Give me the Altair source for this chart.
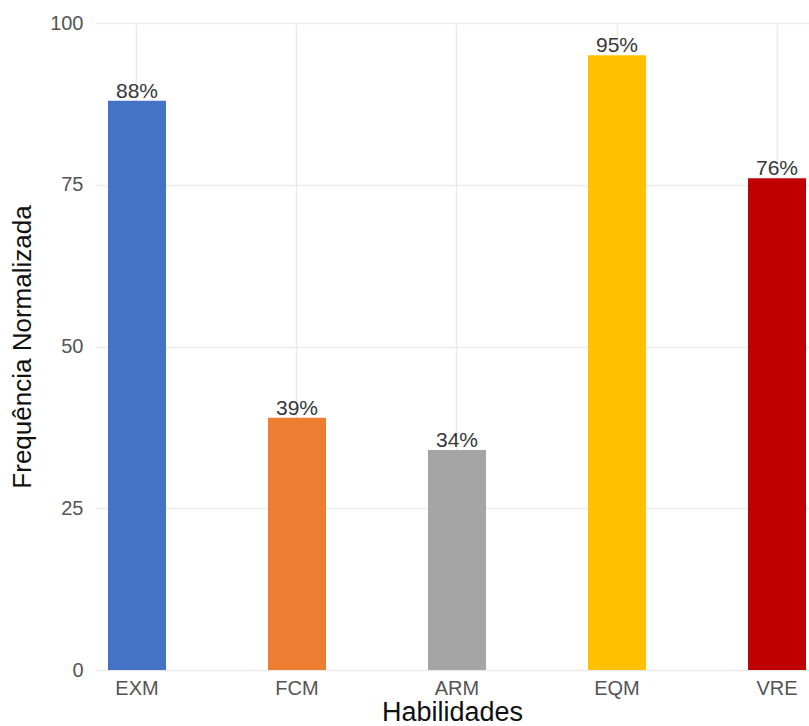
import altair as alt
import pandas as pd

categories = ["EXM", "FCM", "ARM", "EQM", "VRE"]
values = [88, 39, 34, 95, 76]
labels = ["88%", "39%", "34%", "95%", "76%"]
colors = ["#4472C4", "#ED7D31", "#A5A5A5", "#FFC000", "#C00000"]

df = pd.DataFrame({"Habilidades": categories, "valor": values, "rotulo": labels})

FONT = "Liberation Sans"

x = alt.X(
    "Habilidades:N",
    sort=categories,
    scale=alt.Scale(paddingInner=0.6375, paddingOuter=0.05, align=0.8125),
    axis=alt.Axis(
        title="Habilidades",
        labelAngle=0,
        labelFontSize=20,
        labelColor="#555555",
        labelPadding=8,
        ticks=False,
        domain=False,
        grid=True,
        gridColor="#EBEBEB",
        gridWidth=1.5,
        titleFontSize=27,
        titleFontWeight="normal",
        titleColor="#111111",
        titleY=50,
        titleBaseline="alphabetic",
    ),
)

y = alt.Y(
    "valor:Q",
    scale=alt.Scale(domain=[0, 100], nice=False),
    axis=alt.Axis(
        title="Frequência Normalizada",
        values=[0, 25, 50, 75, 100],
        labelFontSize=20,
        labelColor="#555555",
        labelPadding=12,
        ticks=False,
        domain=False,
        grid=True,
        gridColor="#EBEBEB",
        gridWidth=1.5,
        titleFontSize=26,
        titleFontWeight="normal",
        titleColor="#111111",
        titleX=-73,
        titleBaseline="middle",
        titleAngle=-90,
    ),
)

bars = alt.Chart(df).mark_bar().encode(
    x=x,
    y=y,
    color=alt.Color("Habilidades:N", sort=categories,
                    scale=alt.Scale(domain=categories, range=colors), legend=None),
)

text = alt.Chart(df).mark_text(
    baseline="alphabetic", dy=-3, fontSize=21, color="#383838", font=FONT
).encode(
    x=alt.X("Habilidades:N", sort=categories),
    y=alt.Y("valor:Q"),
    text="rotulo:N",
)

chart = (
    alt.layer(bars, text)
    .properties(
        width=714,
        height=647,
        padding={"left": 95, "top": 23, "right": 0, "bottom": 56},
        autosize=alt.AutoSizeParams(type="none"),
    )
    .configure(font=FONT)
    .configure_view(stroke=None)
)

chart.save("out.html", embed_options={"renderer": "svg", "actions": False})
